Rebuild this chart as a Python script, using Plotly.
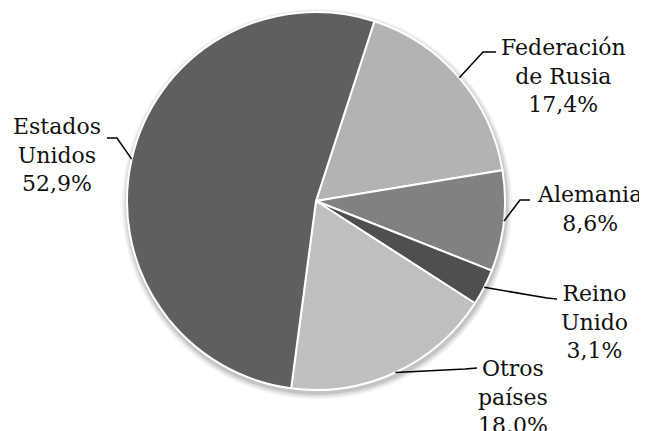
import math
import plotly.graph_objects as go

# ---- data ----
countries = ["Federación de Rusia", "Alemania", "Reino Unido", "Otros países", "Estados Unidos"]
shares = [17.4, 8.6, 3.1, 18.0, 52.9]
label_texts = ["Federación<br>de Rusia<br>17,4%", "Alemania<br>8,6%", "Reino<br>Unido<br>3,1%",
               "Otros<br>países<br>18.0%", "Estados<br>Unidos<br>52,9%"]
colors = ["#b3b3b3", "#818181", "#4f4f4f", "#bfbfbf", "#5f5f5f"]

# ---- layout / style ----
W, H = 647, 431
OFF = 8  # page body margin of the browser
CX, CY, R = 316, 201, 189
ROT = 18
FONT = "DejaVu Serif"
FS = 22
# per label: (elbow px, end px, text centre px) in window pixels
label_style = [
    ((483, 52), (496, 52), (563, 76)),
    ((520, 200), (530, 200), (589, 209)),
    ((547, 298), (557, 299), (594, 322)),
    ((465, 369), (477, 368), (513, 397)),
    ((117, 138), (107, 138), (57, 155)),
]
shadow_levels = ["#f3f3f3", "#e6e6e6", "#d6d6d6", "#c4c4c4"]


def px(x):
    return (x - OFF) / W


def py(y):
    return 1 - (y - OFF) / H


fig = go.Figure()
total = sum(shares)
# soft shadow under the pie
for k, col in enumerate(shadow_levels):
    rr = R + (len(shadow_levels) - k) * 1.5
    sx, sy = CX + 1, CY + 3
    fig.add_trace(go.Pie(
        values=[total], labels=["shadow"], sort=False, textinfo="none", hoverinfo="skip",
        marker=dict(colors=[col], line=dict(width=0)), showlegend=False,
        domain=dict(x=[px(sx - rr), px(sx + rr)], y=[py(sy + rr), py(sy - rr)]),
    ))

fig.add_trace(go.Pie(
    labels=countries, values=shares, sort=False, direction="clockwise", rotation=ROT,
    marker=dict(colors=colors, line=dict(color="white", width=2)),
    textinfo="none", hoverinfo="label+percent", showlegend=False,
    domain=dict(x=[px(CX - R), px(CX + R)], y=[py(CY + R), py(CY - R)]),
))

cum = 0.0
shapes = []
annotations = []
for v, txt, (elbow, end, tc) in zip(shares, label_texts, label_style):
    mid = math.radians(ROT + (cum + v / 2) / total * 360)
    cum += v
    ex = CX + R * math.sin(mid)
    ey = CY - R * math.cos(mid)
    path = f"M {px(ex)},{py(ey)} L {px(elbow[0])},{py(elbow[1])} L {px(end[0])},{py(end[1])}"
    shapes.append(dict(type="path", xref="paper", yref="paper", path=path,
                       line=dict(color="black", width=1.5)))
    annotations.append(dict(x=px(tc[0]), y=py(tc[1]), xref="paper", yref="paper",
                            text=txt, showarrow=False, xanchor="center", yanchor="middle",
                            align="center", font=dict(family=FONT, size=FS, color="#111111")))

fig.update_layout(
    width=W, height=H, margin=dict(l=0, r=0, t=0, b=0),
    paper_bgcolor="white", plot_bgcolor="white",
    shapes=shapes, annotations=annotations,
)
fig.write_html("out.html")
